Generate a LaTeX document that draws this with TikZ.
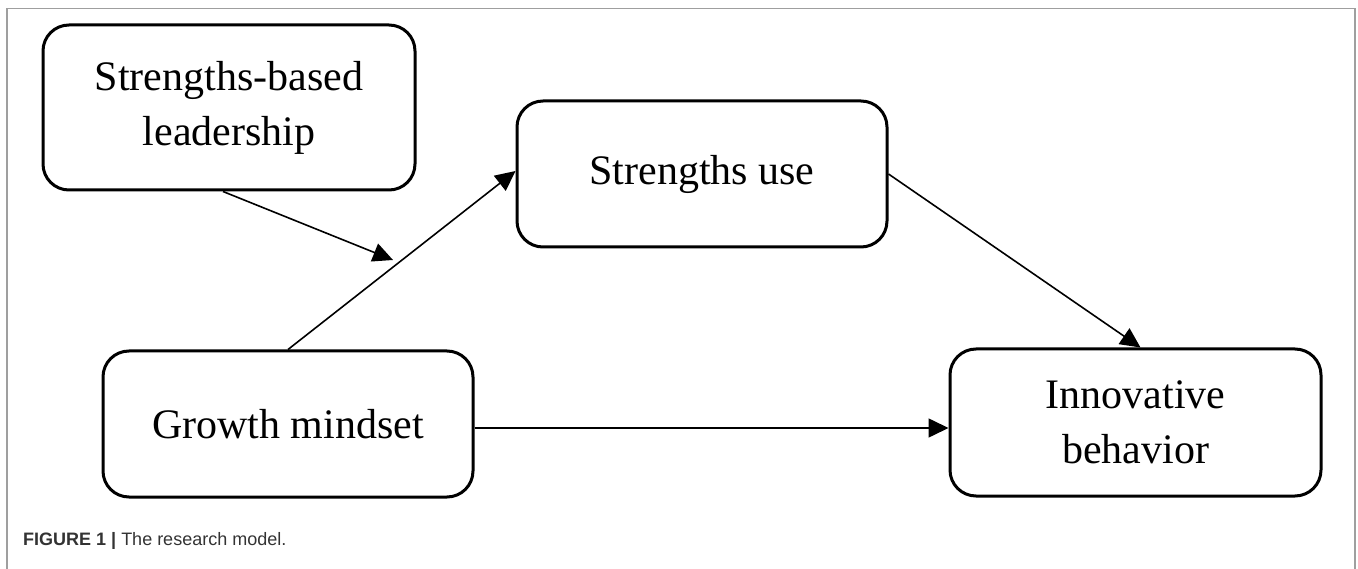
\documentclass[tikz,border=0pt]{standalone}
\usepackage{fontspec}
\setmainfont{Liberation Serif}
\newfontfamily\capfont{Liberation Sans}
\usetikzlibrary{arrows.meta,calc}
\tikzset{
  box/.style={draw=black, line width=3pt, rounded corners=26pt, align=center,
    font=\fontsize{42}{55}\selectfont, inner sep=0pt},
  link/.style={line width=1.6pt, -{Triangle[length=20pt,width=19pt]}},
  frame/.style={draw=gray!75, line width=1.6pt}
}
\begin{document}
\begin{tikzpicture}[x=1pt,y=-1pt]
\useasboundingbox (0,0) rectangle (1358,569);
% frame
\draw[frame] (7,569) -- (7,8.5) -- (1355,8.5) -- (1355,569);
% boxes
\node[box, minimum width=372pt, minimum height=165pt] (sbl) at (229,107.5) {\raisebox{-4pt}{Strengths-based}\\\raisebox{-4pt}{leadership}};
\node[box, minimum width=370pt, minimum height=146pt] (su) at (702,174) {Strengths use};
\node[box, minimum width=370pt, minimum height=146pt] (gm) at (288,424) {Growth mindset};
\node[box, minimum width=371pt, minimum height=147pt] (ib) at (1135.5,422.5) {Innovative\\behavior};
% connectors
\coordinate (m) at (393,260);
\draw[link] (gm.north) -- ([yshift=3pt]su.west);
\draw[link] ([xshift=-6pt]sbl.south) -- (m);
\draw[link] (su.east) -- ([xshift=5pt]ib.north);
\draw[link] ([yshift=-4pt]gm.east) -- ([yshift=-4pt]gm.east -| ib.west);
% caption
\node[anchor=base west, inner sep=0pt, text=black!80, font=\capfont\fontsize{18}{21}\selectfont] (cap) at (23,545) {\textbf{FIGURE 1 |} The research model.};
\end{tikzpicture}
\end{document}
